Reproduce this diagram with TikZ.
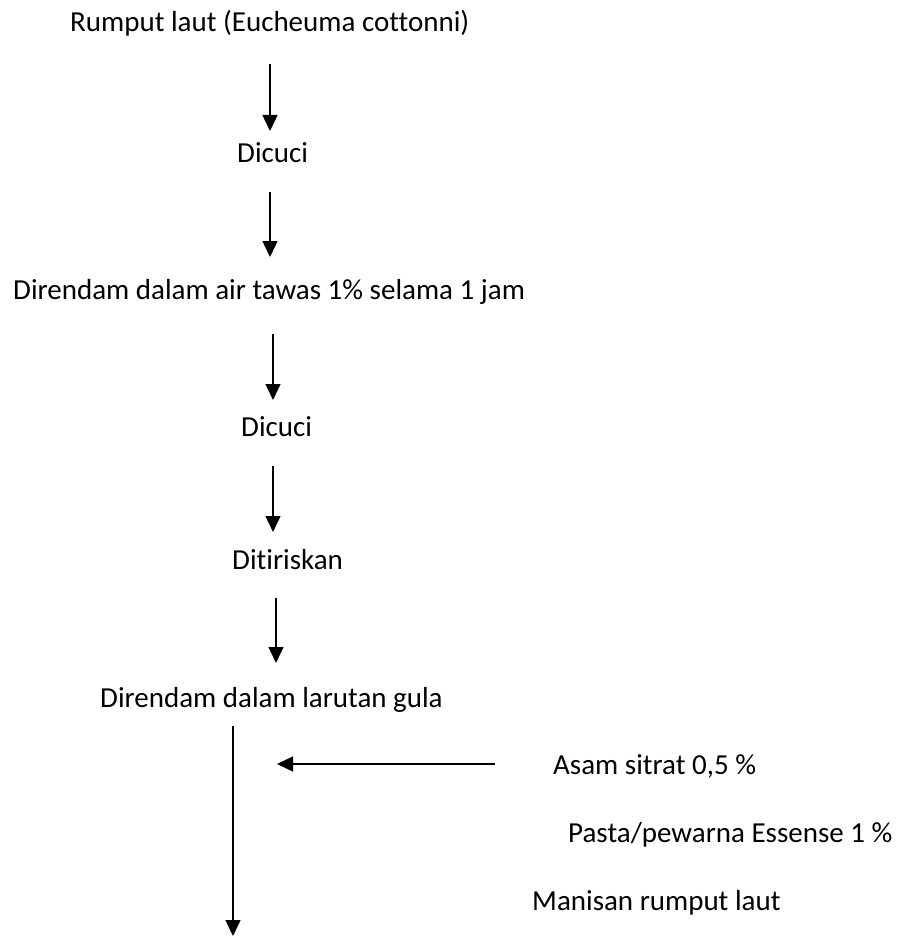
\documentclass[tikz,border=0pt]{standalone}
\usepackage{fontspec}
\setmainfont{Carlito}[Ligatures={NoCommon}]
\usetikzlibrary{arrows.meta}
\begin{document}
\begin{tikzpicture}[x=1pt,y=-1pt,
  lbl/.style={inner sep=0pt,anchor=base west,font=\fontsize{29}{34}\selectfont},
  arr/.style={line width=1.4pt,-{Triangle[length=16pt,width=15pt]}}]
\useasboundingbox (0,0) rectangle (910,936);
\node[lbl] (t1) at (70,32) {Rumput laut (Eucheuma cottonni)};
\node[lbl] (t2) at (237,163) {Dicuci};
\node[lbl] (t3) at (13,299) {Direndam dalam air tawas 1\% selama 1 jam};
\node[lbl] (t4) at (241,436) {Dicuci};
\node[lbl] (t5) at (232,569) {Ditiriskan};
\node[lbl] (t6) at (100,707) {Direndam dalam larutan gula};
\node[lbl] (t7) at (553,774) {Asam sitrat 0,5 \%};
\node[lbl] (t8) at (568,842) {Pasta/pewarna Essense 1 \%};
\node[lbl] (t9) at (532,910) {Manisan rumput laut};
\coordinate (a1s) at (270,64);  \coordinate (a1e) at (270,131);
\coordinate (a2s) at (270,192); \coordinate (a2e) at (270,257);
\coordinate (a3s) at (273,334); \coordinate (a3e) at (273,400);
\coordinate (a4s) at (273,466); \coordinate (a4e) at (273,532);
\coordinate (a5s) at (276,598); \coordinate (a5e) at (276,663);
\coordinate (a6s) at (233,726); \coordinate (a6e) at (233,936);
\coordinate (a7s) at (495,764); \coordinate (a7e) at (277,764);
\draw[arr] (a1s) -- (a1e);
\draw[arr] (a2s) -- (a2e);
\draw[arr] (a3s) -- (a3e);
\draw[arr] (a4s) -- (a4e);
\draw[arr] (a5s) -- (a5e);
\draw[arr] (a6s) -- (a6e);
\draw[arr] (a7s) -- (a7e);
\end{tikzpicture}
\end{document}
